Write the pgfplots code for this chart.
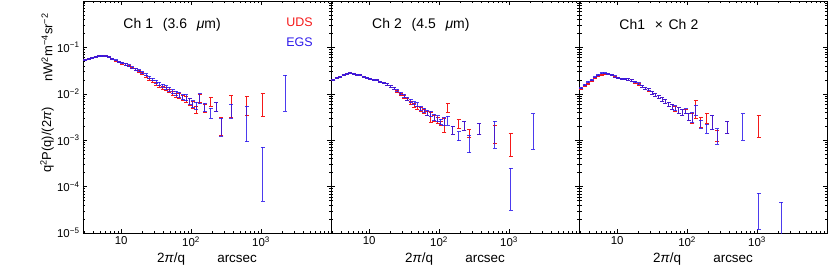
\documentclass[border=0pt]{standalone}
\usepackage{fontspec}
\setmainfont{Liberation Sans}
\usepackage{pgfplots}
\pgfplotsset{compat=1.18}
\usepackage{pgfplotstable}
\usepgfplotslibrary{groupplots}

\definecolor{udsred}{RGB}{245,25,25}
\definecolor{egsblue}{RGB}{45,25,235}

% columns: x, value, relative error
% ---------- Ch 1 ----------
\pgfplotstableread{
x y r
3.09 0.0525 0.025
3.45 0.0562 0.025
3.85 0.0603 0.025
4.31 0.0631 0.025
4.81 0.0646 0.025
5.37 0.0653 0.025
6.00 0.0646 0.025
6.70 0.0617 0.025
7.48 0.0562 0.025
8.36 0.0519 0.025
9.33 0.0479 0.03
10.4 0.0457 0.04
11.6 0.0427 0.04
13.0 0.0398 0.04
14.5 0.0363 0.04
16.2 0.0331 0.04
18.1 0.0302 0.05
20.2 0.0269 0.05
22.6 0.0234 0.05
25.2 0.0204 0.05
28.2 0.0186 0.06
31.5 0.0162 0.07
35.2 0.0145 0.07
39.3 0.0135 0.08
43.9 0.0129 0.08
49.0 0.0117 0.09
54.7 0.0102 0.10
61.1 0.00933 0.11
68.2 0.00891 0.12
76.2 0.00832 0.13
85.1 0.00759 0.14
95.1 0.00676 0.15
106 0.00589 0.16
119 0.00457 0.18
133 0.00816 0.196
157 0.00497 0.195
191 0.00696 0.226
230 0.00537 0.241
271 0.0022 0.42
375 0.00621 0.496
627 0.00615 0.439
1057 0.00669 0.51
}\choneU
\pgfplotstableread{
x y r
3.09 0.0525 0.025
3.45 0.0562 0.025
3.85 0.0603 0.025
4.31 0.0631 0.025
4.81 0.0650 0.025
5.37 0.0653 0.025
6.00 0.0646 0.025
6.70 0.0617 0.025
7.48 0.0569 0.025
8.36 0.0525 0.025
9.33 0.0490 0.03
10.4 0.0468 0.04
11.6 0.0437 0.04
13.0 0.0407 0.04
14.5 0.0372 0.04
16.2 0.0339 0.04
18.1 0.0316 0.05
20.2 0.0288 0.05
22.6 0.0257 0.05
25.2 0.0229 0.05
28.2 0.0204 0.06
31.5 0.0182 0.07
35.2 0.0166 0.07
39.3 0.0151 0.08
43.9 0.0138 0.08
49.0 0.0126 0.09
54.7 0.0112 0.10
61.1 0.0102 0.11
68.2 0.00955 0.12
76.2 0.00851 0.13
85.1 0.00832 0.14
95.1 0.00708 0.15
106 0.00617 0.16
119 0.00562 0.17
133 0.00813 0.24
157 0.00516 0.21
191 0.00393 0.243
230 0.00537 0.241
271 0.0021 0.414
375 0.00449 0.327
627 0.00316 0.706
1057 0.000374 0.87
2213 0.0146 0.71
}\choneE
% ---------- Ch 2 ----------
\pgfplotstableread{
x y r
3.09 0.0195 0.025
3.45 0.0219 0.025
3.85 0.0237 0.025
4.31 0.0257 0.025
4.81 0.0275 0.025
5.37 0.0280 0.025
6.00 0.0272 0.025
6.70 0.0261 0.025
7.48 0.0250 0.025
8.36 0.0237 0.025
9.33 0.0223 0.03
10.4 0.0212 0.03
11.6 0.0202 0.03
13.0 0.0196 0.03
14.5 0.0180 0.04
16.2 0.0171 0.04
18.1 0.0158 0.04
20.2 0.0144 0.05
22.6 0.0129 0.05
25.2 0.0115 0.05
28.2 0.0098 0.06
31.5 0.00871 0.07
35.2 0.00759 0.07
39.3 0.00646 0.08
43.9 0.00562 0.08
49.0 0.00501 0.09
54.7 0.00457 0.10
61.1 0.00417 0.11
68.2 0.00380 0.12
76.2 0.00327 0.242
85.1 0.00295 0.14
95.1 0.00269 0.15
106 0.00233 0.099
119 0.00222 0.32
133 0.00520 0.219
157 0.00167 0.195
191 0.00229 0.219
230 0.00212 0.226
271 0.00143 0.188
375 0.00185 0.273
627 0.00149 0.413
1057 0.000915 0.522
}\chtwoU
\pgfplotstableread{
x y r
3.09 0.0195 0.025
3.45 0.0219 0.025
3.85 0.0237 0.025
4.31 0.0257 0.025
4.81 0.0275 0.025
5.37 0.0280 0.025
6.00 0.0272 0.025
6.70 0.0261 0.025
7.48 0.0250 0.025
8.36 0.0237 0.025
9.33 0.0223 0.03
10.4 0.0212 0.03
11.6 0.0202 0.03
13.0 0.0196 0.03
14.5 0.0180 0.04
16.2 0.0171 0.04
18.1 0.0162 0.04
20.2 0.0148 0.05
22.6 0.0133 0.05
25.2 0.0120 0.05
28.2 0.0102 0.06
31.5 0.00912 0.07
35.2 0.00794 0.07
39.3 0.00708 0.08
43.9 0.00631 0.08
49.0 0.00589 0.09
54.7 0.00490 0.10
61.1 0.00447 0.11
68.2 0.00398 0.12
76.2 0.00372 0.13
85.1 0.00316 0.14
95.1 0.00295 0.15
106 0.00252 0.123
119 0.002635 0.203
133 0.00269 0.219
157 0.00167 0.195
191 0.00124 0.219
230 0.00212 0.226
271 0.000913 0.405
375 0.00185 0.273
627 0.00163 0.593
1057 0.000139 0.774
2213 0.00219 0.712
}\chtwoE
% ---------- Ch1 x Ch2 ----------
\pgfplotstableread{
x y r
3.09 0.0126 0.025
3.45 0.0145 0.025
3.85 0.0166 0.025
4.31 0.0186 0.025
4.81 0.0216 0.025
5.37 0.0240 0.025
6.00 0.0257 0.025
6.70 0.0263 0.025
7.48 0.0263 0.025
8.36 0.0251 0.025
9.33 0.0234 0.03
10.4 0.0219 0.03
11.6 0.0210 0.03
13.0 0.0210 0.03
14.5 0.0202 0.04
16.2 0.0193 0.04
18.1 0.0178 0.04
20.2 0.0163 0.05
22.6 0.0146 0.05
25.2 0.0131 0.05
28.2 0.0121 0.06
31.5 0.0106 0.07
35.2 0.0095 0.07
39.3 0.0086 0.08
43.9 0.00762 0.08
49.0 0.00690 0.09
54.7 0.00594 0.10
61.1 0.00530 0.11
68.2 0.00480 0.12
76.2 0.00440 0.13
85.1 0.00400 0.14
95.1 0.00420 0.12
106 0.00320 0.16
119 0.00310 0.25
133 0.00509 0.424
157 0.00255 0.243
191 0.00311 0.242
230 0.002575 0.34
271 0.00128 0.28
375 0.00196 0.267
1057 0.00231 0.49
}\chcrossU
\pgfplotstableread{
x y r
3.09 0.0135 0.025
3.45 0.0158 0.025
3.85 0.0182 0.025
4.31 0.0202 0.025
4.81 0.0226 0.025
5.37 0.0257 0.025
6.00 0.0279 0.025
6.70 0.0280 0.025
7.48 0.0275 0.025
8.36 0.0257 0.025
9.33 0.0237 0.03
10.4 0.0221 0.03
11.6 0.0212 0.03
13.0 0.0212 0.03
14.5 0.0204 0.04
16.2 0.0195 0.04
18.1 0.0180 0.04
20.2 0.0166 0.05
22.6 0.0148 0.05
25.2 0.0132 0.05
28.2 0.0123 0.06
31.5 0.0107 0.07
35.2 0.00955 0.07
39.3 0.00861 0.08
43.9 0.00759 0.08
49.0 0.00692 0.09
54.7 0.00603 0.10
61.1 0.00525 0.11
68.2 0.00490 0.12
76.2 0.00442 0.13
85.1 0.00407 0.14
95.1 0.00427 0.12
106 0.00322 0.165
119 0.00327 0.242
133 0.00456 0.242
157 0.00225 0.196
191 0.00181 0.219
230 0.002575 0.34
271 0.001303 0.371
375 0.00196 0.267
627 0.002375 0.579
1057 0.0000417 0.712
2213 0.0000268 0.705
}\chcrossE

\pgfplotsset{
  udsbars/.style={udsred, only marks, mark=text, text mark={},
    error bars/y dir=both, error bars/y explicit relative,
    error bars/error bar style={udsred, line width=0.8bp},
    error bars/error mark options={rotate=90, udsred, line width=0.8bp, mark size=2bp}},
  egsbars/.style={egsblue, only marks, mark=text, text mark={},
    error bars/y dir=both, error bars/y explicit relative,
    error bars/error bar style={egsblue, line width=0.8bp, opacity=0.85},
    error bars/error mark options={rotate=90, egsblue, line width=0.8bp, mark size=2bp, opacity=0.85}},
}

\begin{document}
\begin{tikzpicture}
\begin{groupplot}[
    group style={group size=3 by 1, horizontal sep=0pt, group name=G},
    scale only axis, width=248bp, height=232bp,
    clip mode=individual,
    xmode=log, ymode=log,
    xmin=2.85, xmax=10000, ymin=1e-5, ymax=1,
    xtick={10,100,1000},
    xticklabels={10, 10\textsuperscript{2}, 10\textsuperscript{3}},
    minor xtick={3,4,5,6,7,8,9,20,30,40,50,60,70,80,90,200,300,400,500,600,700,800,900,2000,3000,4000,5000,6000,7000,8000,9000},
    ytick={1e-5,1e-4,1e-3,1e-2,1e-1},
    minor ytick={2e-5,3e-5,4e-5,5e-5,6e-5,7e-5,8e-5,9e-5,2e-4,3e-4,4e-4,5e-4,6e-4,7e-4,8e-4,9e-4,2e-3,3e-3,4e-3,5e-3,6e-3,7e-3,8e-3,9e-3,2e-2,3e-2,4e-2,5e-2,6e-2,7e-2,8e-2,9e-2,0.2,0.3,0.4,0.5,0.6,0.7,0.8,0.9},
    tick align=inside,
    major tick length=4.5bp, minor tick length=2.5bp,
    tick style={black, line width=0.5bp},
    axis line style={line width=0.6bp},
    tick label style={font=\fontsize{11.5}{13}\selectfont},
    xlabel={2\textit{π}/q\hspace{2.4em}arcsec},
    xlabel style={font=\fontsize{13.5}{15}\selectfont, yshift=1bp},
  ]
\nextgroupplot[yticklabels={10\textsuperscript{−5},10\textsuperscript{−4},10\textsuperscript{−3},10\textsuperscript{−2},10\textsuperscript{−1}}]
\addplot[udsbars] table[x=x, y=y, y error=r]{\choneU};
\addplot[egsbars] table[x=x, y=y, y error=r]{\choneE};
\node[font=\fontsize{14}{16}\selectfont, anchor=west] at (rel axis cs:0.149,0.897) {Ch\hspace{0.3em}1\hspace{0.7em}(3.6\hspace{0.7em}\textit{μ}m)};
\node[font=\fontsize{12.5}{14}\selectfont, text=udsred, anchor=west] at (rel axis cs:0.806,0.91) {UDS};
\node[font=\fontsize{12.5}{14}\selectfont, text=egsblue, anchor=west] at (rel axis cs:0.806,0.821) {EGS};
\node[font=\fontsize{13}{15}\selectfont, rotate=90] at (rel axis cs:-0.145,0.80) {nW\textsuperscript{2}m\textsuperscript{−4}sr\textsuperscript{−2}};
\node[font=\fontsize{13}{15}\selectfont, rotate=90] at (rel axis cs:-0.145,0.40) {q\textsuperscript{2}P(q)/(2\textit{π})};
\nextgroupplot[yticklabels={}]
\addplot[udsbars] table[x=x, y=y, y error=r]{\chtwoU};
\addplot[egsbars] table[x=x, y=y, y error=r]{\chtwoE};
\node[font=\fontsize{14}{16}\selectfont, anchor=west] at (rel axis cs:0.152,0.897) {Ch\hspace{0.3em}2\hspace{0.7em}(4.5\hspace{0.7em}\textit{μ}m)};
\nextgroupplot[yticklabels={}]
\addplot[udsbars] table[x=x, y=y, y error=r]{\chcrossU};
\addplot[egsbars] table[x=x, y=y, y error=r]{\chcrossE};
\node[font=\fontsize{14}{16}\selectfont, anchor=west] at (rel axis cs:0.149,0.897) {Ch1\hspace{0.7em}×\hspace{0.4em}Ch\hspace{0.3em}2};
\end{groupplot}
\pgfresetboundingbox
\path (G c1r1.south west) ++(-83bp,-37bp) rectangle ++(830bp,270bp);
\end{tikzpicture}
\end{document}
